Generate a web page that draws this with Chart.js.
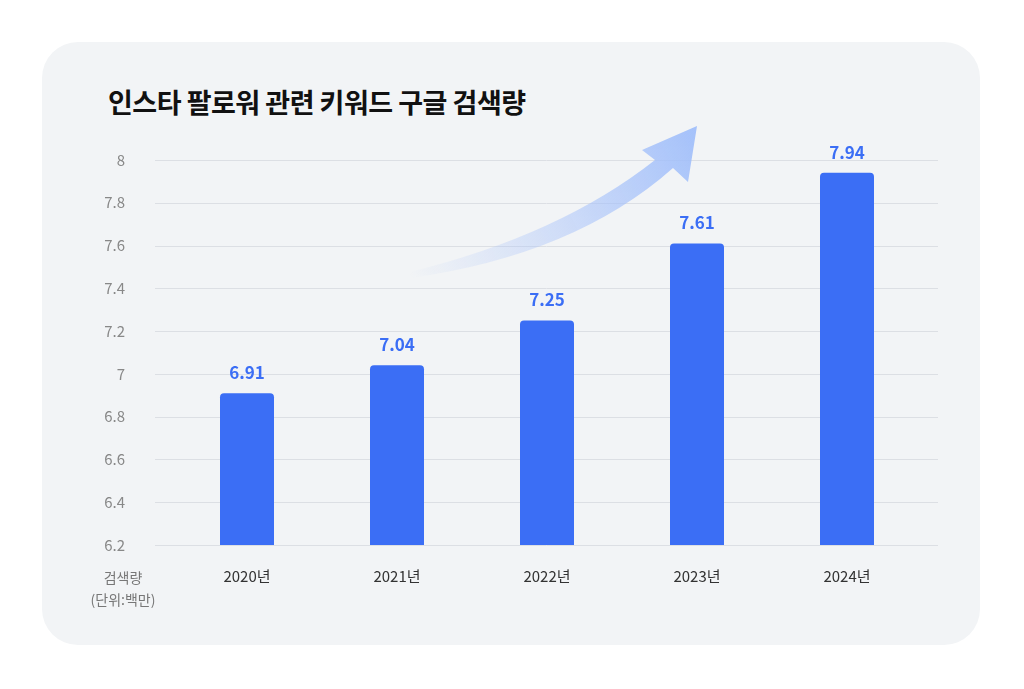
<!DOCTYPE html>
<html><head><meta charset="utf-8">
<script src="https://cdn.jsdelivr.net/npm/chart.js@4"></script>
<style>
html,body{margin:0;padding:0;background:#fff;width:1024px;height:689px;overflow:hidden;font-family:"Noto Sans CJK KR",sans-serif}
#card{position:absolute;left:42px;top:42px;width:938px;height:603px;background:#f2f4f6;border-radius:36px}
#title{position:absolute;left:108px;top:82px;font-size:27px;font-weight:700;color:#111;letter-spacing:-0.5px}
#wrap{position:absolute;left:0;top:0;width:1024px;height:689px}
</style></head><body>
<div id="card"></div>
<div id="title">인스타 팔로워 관련 키워드 구글 검색량</div>
<div id="wrap"><canvas id="c"></canvas></div>
<script>
const categories=["2020년","2021년","2022년","2023년","2024년"];
const values=[6.91,7.04,7.25,7.61,7.94];
const yTicks=[6.2,6.4,6.6,6.8,7,7.2,7.4,7.6,7.8,8];
const axisTitle=["검색량","(단위:백만)"];
const FONT='"Noto Sans CJK KR", sans-serif';
const deco={id:'deco',
beforeDatasetsDraw(ch){const c=ch.ctx,y=ch.scales.y;c.save();c.strokeStyle='#dcdfe4';c.lineWidth=1;
 yTicks.forEach(v=>{const p=Math.round(y.getPixelForValue(v))+0.5;c.beginPath();c.moveTo(155,p);c.lineTo(938,p);c.stroke();});
 // arrow
 const g=c.createLinearGradient(410,275,695,125);g.addColorStop(0,'rgba(170,195,250,0)');g.addColorStop(1,'rgba(160,190,250,0.95)');
 c.fillStyle=g;c.beginPath();c.moveTo(410,272);c.quadraticCurveTo(560,235,655,160);c.lineTo(642,150);c.lineTo(697,126);c.lineTo(688,182);c.lineTo(673,168);c.quadraticCurveTo(575,255,410,278);c.closePath();c.fill();
 c.restore();},
afterDatasetsDraw(ch){const c=ch.ctx,m=ch.getDatasetMeta(0);c.save();c.fillStyle='#3b6ef5';c.font='600 17px '+FONT;c.textAlign='center';c.textBaseline='bottom';
 m.data.forEach((b,i)=>c.fillText(values[i].toFixed(2),b.x,b.y-12));
 c.fillStyle='#777';c.font='14px '+FONT;c.fillText(axisTitle[0],123,585);c.fillText(axisTitle[1],123,607);c.restore();}};
new Chart(document.getElementById('c'),{type:'bar',
data:{labels:categories,datasets:[{data:values,backgroundColor:'#3b6ef5',borderRadius:{topLeft:4,topRight:4},borderSkipped:'bottom',barPercentage:0.36,categoryPercentage:1}]},
options:{responsive:true,maintainAspectRatio:false,animation:false,devicePixelRatio:1,
layout:{padding:{left:60,right:102,top:160,bottom:104}},
plugins:{legend:{display:false},tooltip:{enabled:false}},
scales:{
 y:{min:6.2,max:8,afterFit(s){s.width=112;},afterBuildTicks(s){s.ticks=yTicks.map(v=>({value:v}));},
  ticks:{padding:39,color:'#888',font:{family:FONT,size:15},callback:v=>String(+v.toFixed(1))},grid:{display:false},border:{display:false}},
 x:{afterFit(s){s.height=40;},ticks:{padding:14,color:'#333',font:{family:FONT,size:15}},grid:{display:false},border:{display:false}}}},
plugins:[deco]});
</script></body></html>
